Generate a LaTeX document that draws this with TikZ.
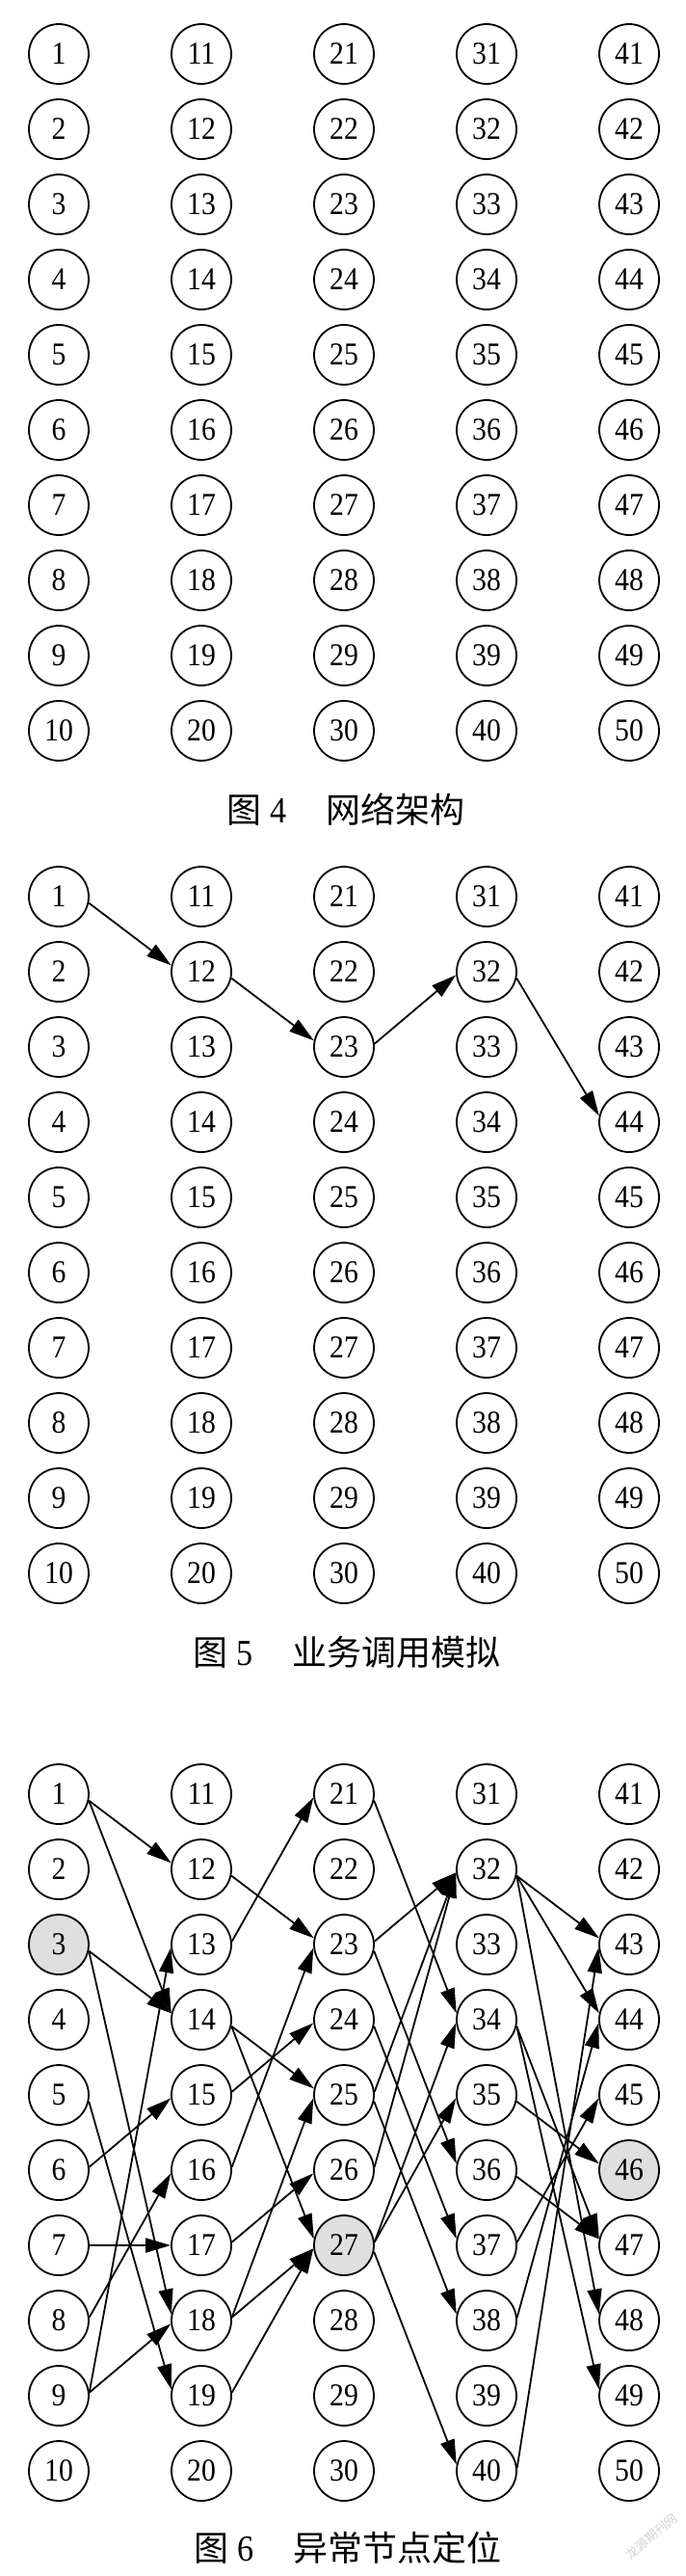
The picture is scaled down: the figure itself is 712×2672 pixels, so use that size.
\documentclass[tikz,border=0pt]{standalone}
\usepackage{fontspec}
\setmainfont{Liberation Serif}[FakeStretch=0.9]
\newfontfamily\cjk{Noto Sans CJK SC}
\usetikzlibrary{arrows.meta}
\begin{document}
\begin{tikzpicture}[x=1pt,y=-1pt,
  nd/.style={circle,draw,line width=1.8pt,minimum size=62pt,inner sep=0pt,fill=white,
    font=\fontsize{33}{33}\selectfont},
  ed/.style={line width=1.8pt,-{Triangle[length=26pt,width=15pt]}},
  captext/.style={font=\fontsize{36}{36}\selectfont,anchor=center,inner sep=0pt}]
\useasboundingbox (0,0) rectangle (712,2672);
% Figure 4 nodes
\foreach \n in {1,...,50} {
  \pgfmathtruncatemacro{\cc}{div(\n-1,10)}
  \pgfmathtruncatemacro{\rr}{mod(\n-1,10)}
  \node[nd] (a\n) at ({61+148*\cc},{56+78*\rr}) {\n};
}
% Figure 5 nodes
\foreach \n in {1,...,50} {
  \pgfmathtruncatemacro{\cc}{div(\n-1,10)}
  \pgfmathtruncatemacro{\rr}{mod(\n-1,10)}
  \node[nd] (b\n) at ({61+148*\cc},{930+78*\rr}) {\n};
}
% Figure 6 nodes
\foreach \n in {1,...,50} {
  \pgfmathtruncatemacro{\cc}{div(\n-1,10)}
  \pgfmathtruncatemacro{\rr}{mod(\n-1,10)}
  \def\fc{white}
  \ifnum\n=3 \def\fc{gray!25}\fi
  \ifnum\n=27 \def\fc{gray!25}\fi
  \ifnum\n=46 \def\fc{gray!25}\fi
  \node[nd,fill=\fc] (c\n) at ({61+148*\cc},{1861+78*\rr}) {\n};
}
% Figure 5 edges
\foreach \s/\t in {1/12,12/23,32/44} \draw[ed] (b\s.-12) -- (b\t.168);
\draw[ed] (b23.6) -- (b32.-174);
% Figure 6 edges
\foreach \s/\t in {1/12,1/14,3/14,3/18,5/19,12/23,14/25,14/27,21/34,23/36,24/37,25/38,27/40,32/43,32/44,32/48,34/47,34/49,35/46,36/47}
  \draw[ed] (c\s.-12) -- (c\t.168);
\foreach \s/\t in {6/15,8/16,9/13,9/18,13/21,15/24,16/23,17/26,18/25,18/27,19/27,23/32,25/32,26/32,27/34,27/35,37/45,38/44,40/43}
  \draw[ed] (c\s.6) -- (c\t.-174);
\draw[ed] (c7.east) -- (c17.west);
% Captions
\node[captext] (cap4) at (359,840) {{\cjk 图}\hspace{9pt}{\fontsize{38}{38}\selectfont 4}\hspace{40pt}{\cjk 网络架构}};
\node[captext] (cap5) at (360,1714) {{\cjk 图}\hspace{9pt}{\fontsize{38}{38}\selectfont 5}\hspace{40pt}{\cjk 业务调用模拟}};
\node[captext] (cap6) at (361,2643) {{\cjk 图}\hspace{9pt}{\fontsize{38}{38}\selectfont 6}\hspace{40pt}{\cjk 异常节点定位}};
% Watermark
\node[rotate=40,text=gray!35,font=\cjk\fontsize{13}{13}\selectfont] (wm) at (676,2631) {龙源期刊网};
\end{tikzpicture}
\end{document}
